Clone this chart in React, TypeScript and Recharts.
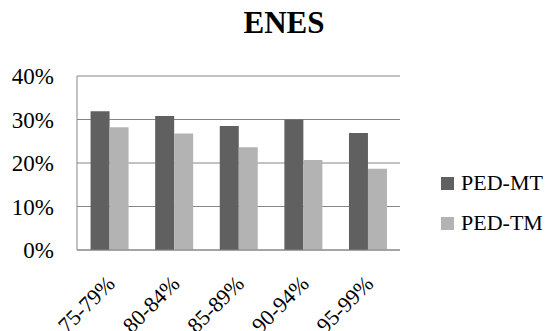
import { BarChart, Bar, XAxis, YAxis, CartesianGrid } from 'recharts';

const categories = ["75-79%", "80-84%", "85-89%", "90-94%", "95-99%"]
const pedMT = [31.9, 30.8, 28.5, 30.0, 26.9]
const pedTM = [28.2, 26.8, 23.6, 20.7, 18.7]
const yTicks = [0, 10, 20, 30, 40]
const seriesNames = ["PED-MT", "PED-TM"]

const DARK = "#606060"
const LIGHT = "#b3b3b3"
const FONT = '"Liberation Serif", "Times New Roman", serif'

const data = categories.map((c, i) => ({ name: c, mt: pedMT[i], tm: pedTM[i] }))

// rotated category label, anchored at its right end
function CatTick(props: any) {
  const { x, y, payload } = props
  return (
    <g transform={`translate(${x + 7},${y + 35})`}>
      <text transform="rotate(-45)" textAnchor="end" fontFamily={FONT} fontSize={22} fill="#000">
        {payload.value}
      </text>
    </g>
  )
}

function LegendBox() {
  const colors = [DARK, LIGHT]
  return (
    <div style={{ position: "absolute", left: 441, top: 163, fontFamily: FONT, fontSize: 22, color: "#000" }}>
      {seriesNames.map((label, i) => (
        <div key={label} style={{ display: "flex", alignItems: "center", height: 40 }}>
          <span style={{ width: 13, height: 13, background: colors[i], marginRight: 7, display: "inline-block" }} />
          <span>{label}</span>
        </div>
      ))}
    </div>
  )
}

export default function App() {
  return (
    <div style={{ position: "absolute", left: 0, top: 0, width: 550, height: 331, background: "#fff", overflow: "hidden" }}>
      <div style={{ position: "absolute", left: 0, top: 5, width: 568, textAlign: "center", fontFamily: FONT, fontWeight: "bold", fontSize: 31 }}>
        ENES
      </div>
      <BarChart
        width={550}
        height={331}
        data={data}
        margin={{ top: 76, right: 150, bottom: 0, left: 0 }}
        barCategoryGap="21%"
        barGap={0}
      >
        <CartesianGrid vertical={false} stroke="#868686" />
        <XAxis
          dataKey="name"
          height={81}
          axisLine={{ stroke: "#868686" }}
          tickLine={false}
          tickSize={0}
          tickMargin={0}
          interval={0}
          tick={<CatTick />}
        />
        <YAxis
          width={77}
          domain={[0, 40]}
          ticks={yTicks}
          tickFormatter={v => `${v}%`}
          axisLine={{ stroke: "#868686" }}
          tickLine={false}
          tickSize={0}
          tickMargin={23}
          tick={{ fontFamily: FONT, fontSize: 23, fill: "#000" }}
        />
        <Bar dataKey="mt" name={seriesNames[0]} fill={DARK} isAnimationActive={false} />
        <Bar dataKey="tm" name={seriesNames[1]} fill={LIGHT} isAnimationActive={false} />
      </BarChart>
      <LegendBox />
    </div>
  )
}
